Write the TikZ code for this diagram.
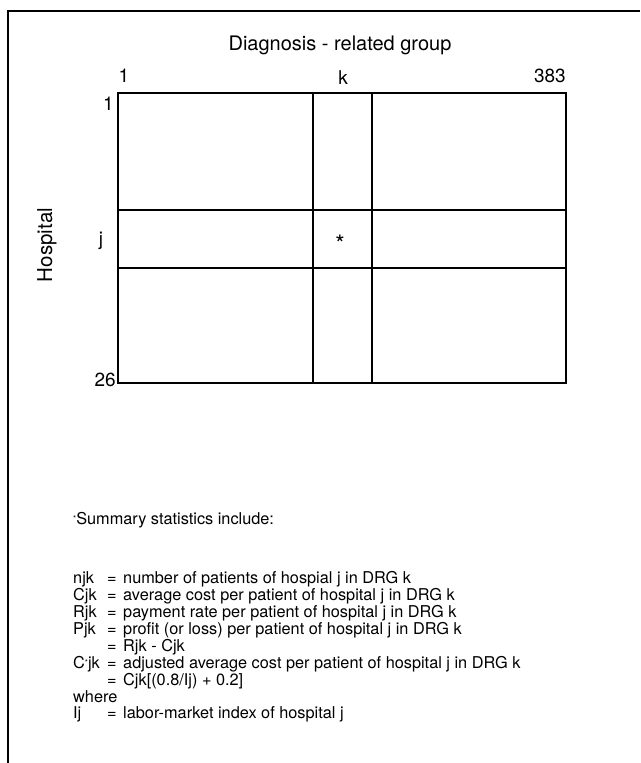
\documentclass[tikz,border=0pt]{standalone}
\usepackage{fontspec}
\setmainfont{TeX Gyre Heros}
\newcommand{\smallast}{\raisebox{0.35ex}{\footnotesize *}}
\begin{document}
\begin{tikzpicture}[x=1pt,y=-1pt,
  frameline/.style={line width=2.4pt},
  gridline/.style={line width=1.8pt},
  lab/.style={font=\fontsize{19}{21}\selectfont, inner sep=0pt},
  stat/.style={font=\fontsize{16.3}{17}\selectfont, inner sep=0pt, anchor=west}]
\useasboundingbox (0,0) rectangle (640,763);
% outer frame
\coordinate (fb) at (8,763);
\coordinate (ftl) at (8,11);
\coordinate (ftr) at (640,11);
\draw[frameline] (fb) -- (ftl) -- (ftr);
% grid
\coordinate (gtl) at (118,93);
\coordinate (gbr) at (566,383);
\draw[gridline] (gtl) rectangle (gbr);
\coordinate (v1t) at (313,93); \coordinate (v1b) at (313,383);
\coordinate (v2t) at (372,93); \coordinate (v2b) at (372,383);
\coordinate (h1l) at (118,210); \coordinate (h1r) at (566,210);
\coordinate (h2l) at (118,268); \coordinate (h2r) at (566,268);
\draw[gridline] (v1t) -- (v1b);
\draw[gridline] (v2t) -- (v2b);
\draw[gridline] (h1l) -- (h1r);
\draw[gridline] (h2l) -- (h2r);
% labels
\node[lab, font=\fontsize{20}{22}\selectfont] (title) at (340,45) {Diagnosis - related group};
\node[lab] (c1) at (124,76) {1};
\node[lab] (ck) at (343,78) {k};
\node[lab, anchor=east] (c383) at (566,76) {383};
\node[lab, anchor=east] (r1) at (114,104) {1};
\node[lab] (rj) at (101,241) {j};
\node[lab, anchor=east] (r26) at (116,380) {26};
\node[lab, rotate=90, font=\fontsize{20.5}{22}\selectfont] (hosp) at (47,245) {Hospital};
\node[lab, font=\fontsize{24}{26}\selectfont] (star) at (340,244) {*};
% summary
\node[stat] (sum) at (73,520) {\smallast Summary statistics include:};
\node[stat] (l1a) at (73,579) {njk};
\node[stat] (l1b) at (107,579) {=\hspace{0.4em}number of patients of hospial j in DRG k};
\node[stat] (l2a) at (73,596) {Cjk};
\node[stat] (l2b) at (107,596) {=\hspace{0.4em}average cost per patient of hospital j in DRG k};
\node[stat] (l3a) at (73,613) {Rjk};
\node[stat] (l3b) at (107,613) {=\hspace{0.4em}payment rate per patient of hospital j in DRG k};
\node[stat] (l4a) at (73,630) {Pjk};
\node[stat] (l4b) at (107,630) {=\hspace{0.4em}profit (or loss) per patient of hospital j in DRG k};
\node[stat] (l5b) at (107,647) {=\hspace{0.4em}Rjk - Cjk};
\node[stat] (l6a) at (73,664) {C\smallast jk};
\node[stat] (l6b) at (107,664) {=\hspace{0.4em}adjusted average cost per patient of hospital j in DRG k};
\node[stat] (l7b) at (107,681) {=\hspace{0.4em}Cjk[(0.8/Ij) + 0.2]};
\node[stat] (l8a) at (73,697) {where};
\node[stat] (l9a) at (73,714) {Ij};
\node[stat] (l9b) at (107,714) {=\hspace{0.4em}labor-market index of hospital j};
\end{tikzpicture}
\end{document}
